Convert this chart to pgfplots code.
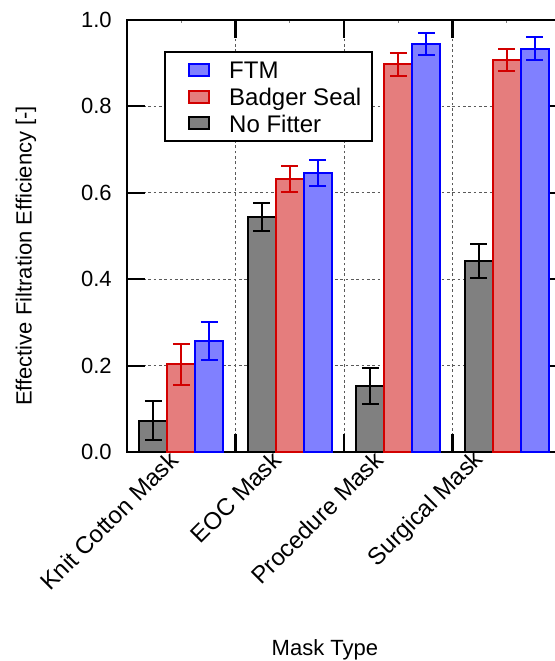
\documentclass[border=0pt]{standalone}
\usepackage{pgfplots}
\pgfplotsset{compat=1.18}
\usepackage{fontspec}
\setmainfont{Liberation Sans}
\definecolor{grayfill}{RGB}{128,128,128}
\definecolor{redfill}{RGB}{229,125,125}
\definecolor{rededge}{RGB}{210,0,0}
\definecolor{bluefill}{RGB}{128,128,255}
\definecolor{blueedge}{RGB}{0,0,255}
\definecolor{gridgray}{RGB}{90,90,90}
\begin{document}
\begin{tikzpicture}
\begin{axis}[
  name=ax,
  scale only axis,
  width=325.5pt, height=324pt,
  xmin=-0.5, xmax=3.5,
  ymin=0, ymax=1,
  ybar=0pt, bar width=0.258,
  axis line style={line width=1.6pt},
  tick align=inside,
  major tick length=13.5pt,
  minor tick length=2pt,
  tick style={line width=1.6pt, black},
  every minor tick/.append style={line width=0.8pt, gray},
  ytick={0,0.2,0.4,0.6,0.8,1.0},
  yticklabel style={/pgf/number format/.cd, fixed, fixed zerofill, precision=1, /tikz/.cd, xshift=-8pt},
  /pgf/number format/assume math mode=true,
  ymajorgrids=true,
  grid style={line width=0.6pt, gridgray, dash pattern=on 2pt off 2pt},
  xtick={0.5,1.5,2.5},
  xticklabels={},
  minor xtick={0,1,2,3},
  xmajorgrids=true,
  extra x ticks={-0.030,0.919,1.859,2.790},
  extra x tick labels={Knit Cotton Mask, EOC Mask, Procedure Mask, Surgical Mask},
  extra x tick style={grid=none, major tick length=0pt, tick style={draw=none},
     xticklabel style={rotate=45, anchor=east, font=\fontsize{18}{21}\selectfont, xshift=-1pt}},
  ticklabel style={font=\fontsize{16.5}{19}\selectfont},
  xlabel={Mask Type},
  ylabel={Effective Filtration Efficiency [-]},
  label style={font=\fontsize{16.5}{19}\selectfont},
  xlabel style={at={(axis description cs:0.456,-0.458)}, anchor=center},
  ylabel style={at={(axis description cs:-0.233,0.454)}, anchor=center},
  legend image code/.code={\path (0pt,0pt); \draw[#1] (12pt,-4.5pt) rectangle (27pt,4.5pt); \path (38.75pt,0pt);},
  reverse legend,
  legend cell align=left,
  legend style={at={(0.085,0.928)}, anchor=north west, draw=black, line width=1.5pt,
     font=\fontsize{18}{21}\selectfont, inner xsep=5pt, inner ysep=3.5pt, row sep=0pt,
     nodes={inner xsep=3pt, inner ysep=1.5pt, text height=15pt, text depth=2pt}},
]
\addplot[fill=grayfill, draw=black, line width=1.5pt, bar shift=-0.258,
  error bars/.cd, y dir=both, y explicit,
  error bar style={line width=1.5pt, black},
  error mark options={rotate=90, mark size=6.2pt, line width=1.5pt, black}]
  coordinates {(0,0.072) +- (0,0.045) (1,0.544) +- (0,0.033) (2,0.153) +- (0,0.042) (3,0.442) +- (0,0.040)};
\addplot[fill=redfill, draw=rededge, line width=1.5pt, bar shift=0,
  error bars/.cd, y dir=both, y explicit,
  error bar style={line width=1.5pt, rededge},
  error mark options={rotate=90, mark size=6.2pt, line width=1.5pt, rededge}]
  coordinates {(0,0.203) +- (0,0.047) (1,0.633) +- (0,0.030) (2,0.897) +- (0,0.026) (3,0.907) +- (0,0.026)};
\addplot[fill=bluefill, draw=blueedge, line width=1.5pt, bar shift=0.258,
  error bars/.cd, y dir=both, y explicit,
  error bar style={line width=1.5pt, blueedge},
  error mark options={rotate=90, mark size=6.2pt, line width=1.5pt, blueedge}]
  coordinates {(0,0.257) +- (0,0.044) (1,0.645) +- (0,0.030) (2,0.944) +- (0,0.025) (3,0.934) +- (0,0.027)};
\legend{No Fitter, Badger Seal, FTM}
\end{axis}
\pgfresetboundingbox
\useasboundingbox ([shift={(-95.25pt,-156.75pt)}]ax.south west) rectangle ([shift={(320.25pt,339pt)}]ax.south west);
\end{tikzpicture}
\end{document}
